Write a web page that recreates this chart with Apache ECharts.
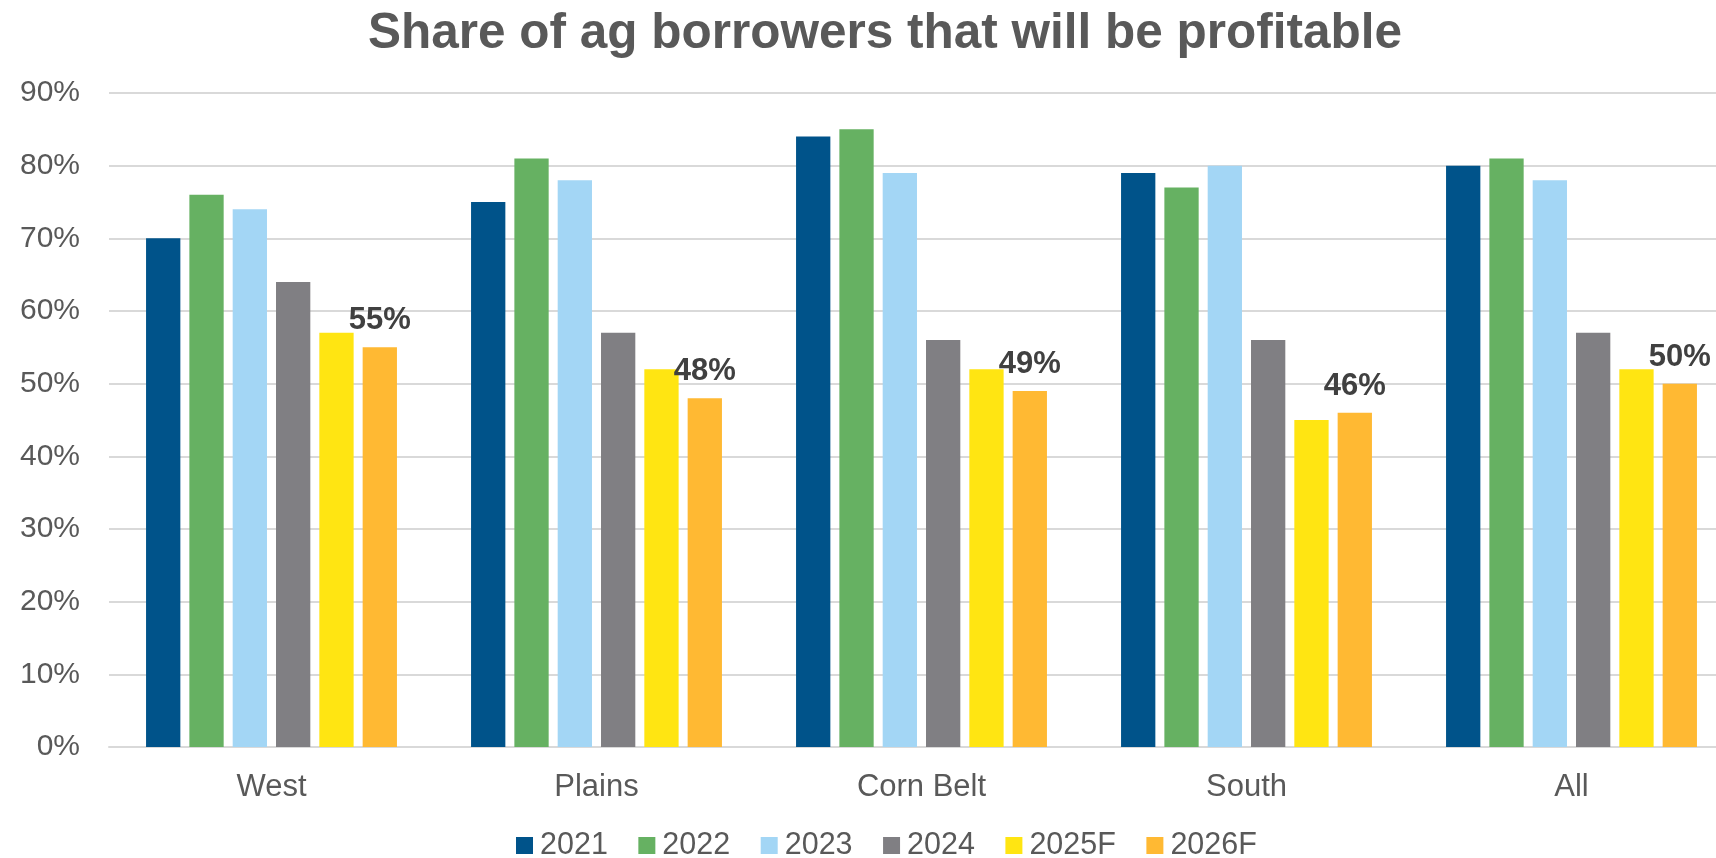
<!DOCTYPE html>
<html>
<head>
<meta charset="utf-8">
<title>Share of ag borrowers that will be profitable</title>
<script src="https://cdn.jsdelivr.net/npm/echarts@6/dist/echarts.min.js"></script>
<style>
  html, body { margin: 0; padding: 0; background: #ffffff; overflow: hidden; }
  /* The drawing surface is a bit wider than the window: the last group of
     bars runs up to the right border and the plot continues past it */
  #chart { width: 1734px; height: 858px; }
</style>
</head>
<body>
<div id="chart"></div>
<script>
// Regions on the category axis
const regions = ['West', 'Plains', 'Corn Belt', 'South', 'All'];

// Share of borrowers expected to be profitable (%), one array per year
const y2021  = [70, 75, 84, 79, 80];
const y2022  = [76, 81, 85, 77, 81];
const y2023  = [74, 78, 79, 80, 78];
const y2024  = [64, 57, 56, 56, 57];
const y2025F = [57, 52, 52, 45, 52];
const y2026F = [55, 48, 49, 46, 50];

const seriesNames = ['2021', '2022', '2023', '2024', '2025F', '2026F'];
const seriesColors = ['#00538A', '#66B162', '#A3D6F5', '#807F83', '#FFE512', '#FFB933'];
const seriesValues = [y2021, y2022, y2023, y2024, y2025F, y2026F];

// Value axis ticks
const yMin = 0, yMax = 90, yStep = 10;

const FONT = '"Liberation Sans", Arial, sans-serif';
const TEXT_GREY = '#595959';

const chart = echarts.init(document.getElementById('chart'), null, { renderer: 'canvas' });

const series = seriesNames.map((name, i) => {
  const s = {
    name: name,
    type: 'bar',
    data: seriesValues[i],
    barWidth: 34.3,
    barGap: '26.3%',
    itemStyle: { color: seriesColors[i] },
    emphasis: { disabled: true },
    animation: false
  };
  // Only the last forecast year carries a value label
  if (name === '2026F') {
    s.label = {
      show: true,
      position: 'top',
      distance: 11,
      formatter: p => p.value + '%',
      fontFamily: FONT,
      fontWeight: 'bold',
      fontSize: 31,
      color: '#404040'
    };
  }
  return s;
});

chart.setOption({
  backgroundColor: '#ffffff',
  animation: false,
  title: {
    text: 'Share of ag borrowers that will be profitable',
    left: 880,
    textAlign: 'center',
    top: 4,
    textStyle: {
      fontFamily: FONT,
      fontWeight: 'bold',
      fontSize: 49.5,
      color: TEXT_GREY
    }
  },
  legend: {
    data: seriesNames,
    left: 516,
    top: 830,
    padding: 0,
    itemWidth: 17,
    itemHeight: 17,
    itemGap: 30.5,
    icon: 'rect',
    selectedMode: false,
    textStyle: {
      fontFamily: FONT,
      fontSize: 30.5,
      color: TEXT_GREY,
      padding: [0, 0, 0, 2]
    }
  },
  grid: {
    left: 109,
    right: 0,
    top: 93,
    bottom: 111,
    containLabel: false
  },
  xAxis: {
    type: 'category',
    data: regions,
    axisTick: { show: false },
    axisLine: { show: true, lineStyle: { color: '#d9d9d9', width: 2 } },
    axisLabel: {
      margin: 25,
      fontFamily: FONT,
      fontSize: 31,
      color: TEXT_GREY
    }
  },
  yAxis: {
    type: 'value',
    min: yMin,
    max: yMax,
    interval: yStep,
    axisLine: { show: false },
    axisTick: { show: false },
    splitLine: { lineStyle: { color: '#d9d9d9', width: 2 } },
    axisLabel: {
      margin: 29,
      fontFamily: FONT,
      fontSize: 30,
      color: TEXT_GREY,
      formatter: v => v + '%'
    }
  },
  series: series
});
</script>
</body>
</html>
